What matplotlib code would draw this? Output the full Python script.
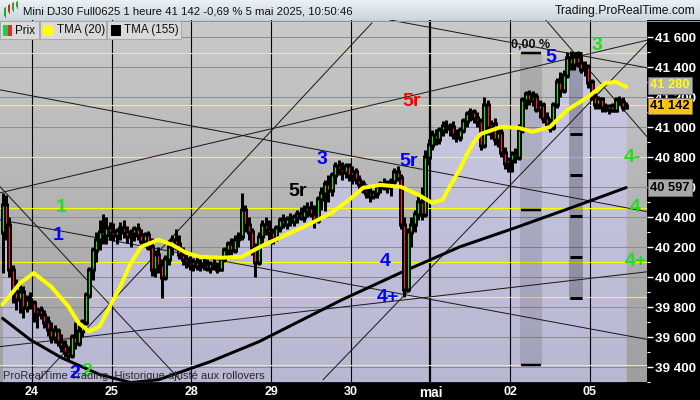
import numpy as np
import matplotlib
matplotlib.use("Agg")
import matplotlib.pyplot as plt
import matplotlib.transforms as mtransforms
from matplotlib.patches import Rectangle

plt.rcParams['font.family'] = ['Liberation Sans', 'DejaVu Sans']

# ------------------------------------------------------------------ data
first_open = 40300
highs = [40560, 40550, 40400, 40080, 39990, 39950, 39940, 39880, 39900,
         39850, 39800, 39810, 39780, 39740, 39700, 39680, 39660, 39620, 39580, 39540, 39620, 39700,
         39680, 39720, 39900, 40070, 40200, 40300, 40380, 40420, 40400, 40370,
         40360, 40330, 40370, 40380, 40340, 40320, 40340, 40360, 40320, 40300, 40310, 40260,
         40180, 40200, 40120, 40150, 40250, 40280, 40320, 40280, 40200, 40160, 40140,
         40130, 40140, 40120, 40130, 40120, 40110, 40130, 40100, 40140, 40200, 40240, 40260,
         40280, 40300, 40560, 40480, 40400, 40330, 40230, 40300, 40380, 40400, 40380,
         40330, 40350, 40400, 40420, 40410, 40430, 40420, 40450, 40470, 40480, 40500, 40510,
         40480, 40540, 40600, 40650, 40680, 40700, 40770, 40780, 40770, 40760, 40760,
         40740, 40730, 40680, 40650, 40620, 40600, 40580, 40620, 40640, 40660, 40650, 40660,
         40730, 40740, 40690, 40400, 40330, 40400, 40450, 40560, 40600, 40850, 40920,
         40980, 40990, 41000, 41040, 41050, 41030, 41040, 40990, 41000, 41060, 41110, 41130,
         41120, 41100, 41060, 41200, 41180, 41050, 41060, 41000, 40990, 40870, 40800,
         40840, 40860, 41020, 41200, 41240, 41250, 41240, 41230, 41180, 41170, 41100, 41060,
         41170, 41330, 41370, 41380, 41500, 41510, 41500, 41510, 41480, 41440, 41420,
         41320, 41230, 41210, 41200, 41160, 41150, 41160, 41200, 41210, 41200, 41170]
lows = [40030, 40250, 40000, 39830, 39780, 39760, 39730, 39770, 39790,
        39700, 39660, 39720, 39660, 39610, 39560, 39560, 39540, 39500, 39470, 39440, 39460, 39520,
        39540, 39600, 39680, 39860, 39980, 40100, 40180, 40220, 40220, 40250,
        40240, 40220, 40250, 40260, 40230, 40200, 40240, 40250, 40210, 40200, 40180, 40010,
        40000, 40030, 39860, 39980, 40080, 40150, 40180, 40120, 40080, 40060, 40050,
        40040, 40050, 40040, 40050, 40040, 40030, 40050, 40030, 40040, 40100, 40130, 40150,
        40160, 40200, 40250, 40300, 40250, 40150, 40000, 40080, 40220, 40280, 40250,
        40220, 40240, 40300, 40330, 40320, 40340, 40340, 40360, 40380, 40370, 40400, 40400,
        40330, 40360, 40450, 40440, 40500, 40540, 40620, 40680, 40650, 40660, 40640,
        40620, 40620, 40580, 40560, 40530, 40500, 40520, 40530, 40560, 40580, 40560, 40540,
        40610, 40640, 40320, 39870, 39900, 40200, 40300, 40380, 40380, 40400, 40750,
        40850, 40880, 40890, 40940, 40960, 40940, 40920, 40900, 40910, 40960, 41000, 41040,
        41030, 41000, 40850, 40860, 40950, 40920, 40880, 40870, 40800, 40720, 40700,
        40700, 40760, 40780, 40960, 41120, 41150, 41140, 41100, 41060, 41030, 40990, 40970,
        40980, 41130, 41200, 41230, 41330, 41380, 41380, 41400, 41360, 41340, 41260,
        41180, 41120, 41120, 41100, 41100, 41090, 41100, 41100, 41150, 41110, 41120]
closes = [40480, 40350, 40050, 39900, 39850, 39900, 39800, 39850, 39830,
          39760, 39780, 39750, 39700, 39650, 39600, 39640, 39570, 39540, 39500, 39480, 39600, 39560,
          39640, 39700, 39880, 40050, 40180, 40250, 40300, 40280, 40330, 40300,
          40280, 40310, 40330, 40300, 40270, 40290, 40320, 40280, 40240, 40280, 40200, 40050,
          40150, 40080, 40000, 40120, 40200, 40250, 40220, 40150, 40120, 40100, 40080,
          40100, 40070, 40090, 40080, 40060, 40090, 40070, 40050, 40120, 40180, 40220, 40180,
          40250, 40270, 40450, 40350, 40300, 40200, 40100, 40270, 40350, 40320, 40300,
          40260, 40330, 40380, 40350, 40390, 40370, 40400, 40420, 40400, 40440, 40460, 40420,
          40380, 40520, 40560, 40620, 40580, 40680, 40740, 40720, 40700, 40740, 40680,
          40700, 40650, 40620, 40580, 40560, 40540, 40560, 40600, 40620, 40600, 40630, 40640,
          40700, 40660, 40350, 39920, 40300, 40350, 40420, 40500, 40420, 40800, 40880,
          40950, 40920, 40980, 41010, 40990, 41000, 40950, 40930, 40980, 41040, 41090, 41100,
          41060, 41040, 40880, 41150, 41000, 41020, 40920, 40960, 40830, 40760, 40780,
          40820, 40800, 40980, 41180, 41220, 41180, 41200, 41120, 41150, 41060, 41020, 41000,
          41150, 41300, 41250, 41350, 41460, 41420, 41470, 41430, 41390, 41400, 41300,
          41200, 41150, 41190, 41130, 41120, 41140, 41110, 41180, 41170, 41130, 41142]

day_labels = ["24", "25", "28", "29", "30", "mai", "02", "05"]
day_start_bars = [9, 32, 55, 78, 101, 124, 147, 170]

tma20_bars = [0, 5, 9, 14, 19, 22, 25, 28, 31, 34, 37, 40, 45, 49, 53, 57, 63, 69, 75,
              80, 85, 90, 95, 100, 104, 109, 115, 120, 124, 127, 129, 132, 134, 136, 138,
              144, 149, 153, 158, 163, 169, 174, 177, 180]
tma20_vals = [39817, 39958, 40027, 39937, 39804, 39693, 39637, 39671, 39804, 39937, 40093,
              40202, 40249, 40215, 40162, 40135, 40129, 40135, 40210, 40262, 40315, 40370,
              40429, 40515, 40595, 40615, 40602, 40549, 40495, 40515, 40600, 40720, 40820,
              40900, 40955, 41002, 40995, 40969, 41002, 41115, 41202, 41295, 41302, 41269]

tma155_bars = [0, 8, 17, 28, 37, 45, 60, 74, 98, 115, 132, 148, 165, 180]
tma155_vals = [39725, 39582, 39462, 39350, 39296, 39315, 39436, 39569, 39849, 40030,
               40202, 40329, 40470, 40597]

level_prices = [41495, 41147, 40800, 40460, 40102, 39870, 39415]

trend_lines = [
    ((-0.7, 41249), (186.3, 40435)),
    ((-0.7, 40562), (186.3, 41582)),
    ((111.8, 41715), (186.3, 41395)),
    ((156.8, 41715), (186.3, 40928)),
    ((92.5, 39315), (186.3, 41569)),
    ((10.5, 39315), (106.6, 41695)),
    ((-0.7, 40602), (51.2, 39315)),
    ((-0.7, 40382), (186.3, 39583)),
    ((-0.7, 39536), (186.3, 40036)),
]

value_tags = [(41280, "41 280", "#b4b4b4", "#ffff00"),
              (41142, "41 142", "#ffc20e", "#000000"),
              (40597, "40 597", "#a8a8a8", "#000000")]

wave_labels = [("1", 61, 208, "#22dd22"), ("1", 58, 236, "#0000ff"),
               ("2", 75, 373, "#0000ff"), ("2", 87, 372, "#22dd22"),
               ("5r", 298, 191, "#000000"), ("3", 322, 159, "#0000ff"),
               ("5r", 409, 161, "#0000ff"), ("4", 385, 262, "#0000ff"),
               ("4+", 388, 297, "#0000ff"), ("5r", 412, 102, "#ff0000"),
               ("5", 551, 57, "#0000ff"), ("3", 597, 45, "#22dd22"),
               ("4-", 632, 158, "#22dd22"), ("4", 635, 208, "#22dd22"),
               ("4+", 636, 262, "#22dd22")]

band1 = (149.3, 155.7, 39415, 41495)
band1_marks = [41495, 40449, 39415]
band2 = (163.5, 167.5, 39849, 41495)
band2_marks = [41495, 40955, 40682, 40409, 40136, 39862]

# ------------------------------------------------------------------ figure
W, H = 700, 400
fig = plt.figure(figsize=(W / 100, H / 100), dpi=100, facecolor="black")
PT = 0.72  # points per pixel

ax_left, ax_right, ax_top, ax_bot = 0, 647, 20, 382
ax = fig.add_axes([ax_left / W, 1 - ax_bot / H, (ax_right - ax_left) / W, (ax_bot - ax_top) / H])
YMIN, YMAX = 39302, 41715
XMIN, XMAX = -0.735, 186.0
ax.set_xlim(XMIN, XMAX)
ax.set_ylim(YMIN, YMAX)
for s in ax.spines.values():
    s.set_visible(False)

# background gradient
top_c = np.array([202, 202, 202]) / 255
bot_c = np.array([158, 158, 158]) / 255
t = np.linspace(0, 1, 256)[:, None, None]
grad = top_c * (1 - t) + bot_c * t
ax.imshow(grad, extent=(XMIN, XMAX, YMIN, YMAX), aspect="auto", zorder=0, origin="upper")

n = len(closes)
xs = np.arange(n)
opens = [first_open] + closes[:-1]

# area under price
ax.fill_between(xs, closes, YMIN, color=(0.80, 0.80, 0.98), alpha=0.58, lw=0, zorder=1)

# grid
for p in range(39400, 41700, 200):
    ax.axhline(p, color="#8e8e8e", lw=1 * PT, zorder=1.5)

# day separators
for b, lab in zip(day_start_bars, day_labels):
    ax.axvline(b - 0.5, color="black", lw=(2.2 if lab == "mai" else 1.1) * PT, zorder=2)

# level lines
for p in level_prices:
    ax.axhline(p, color="#ffff00", lw=1.1 * PT, zorder=2.2)

# bands
for (x0, x1, y0, y1), a in [(band1, 0.12), (band2, 0.24)]:
    ax.add_patch(Rectangle((x0, y0), x1 - x0, y1 - y0, facecolor="black", alpha=a,
                           lw=0, zorder=2.4))
for p in band1_marks:
    ax.hlines(p, band1[0] + 0.4, band1[1] - 0.4, color="black", lw=2.5 * PT, zorder=2.5)
for p in band2_marks:
    ax.hlines(p, band2[0] + 0.3, band2[1] - 0.3, color="black", lw=3 * PT, zorder=2.5)

# trend lines
for (a, b) in trend_lines:
    ax.plot([a[0], b[0]], [a[1], b[1]], color="#1a1a1a", lw=1 * PT, zorder=3)

# TMA 155
ax.plot(tma155_bars, tma155_vals, color="black", lw=3 * PT, zorder=3.5,
        solid_capstyle="round", solid_joinstyle="round")

# candles
lo_b = np.minimum(opens, closes)
hi_b = np.maximum(opens, closes)
ax.vlines(xs, lows, highs, color="black", lw=3.0 * PT, zorder=4)
ax.vlines(xs, lo_b - 12, hi_b + 12, color="black", lw=5.0 * PT, zorder=4.1)
up = np.array(closes) >= np.array(opens)
inset = 8
for i in range(n):
    if hi_b[i] - lo_b[i] > 2 * inset:
        ax.vlines(xs[i], lo_b[i] + inset, hi_b[i] - inset,
                  color="#1fe01f" if up[i] else "#ff1a3c", lw=1.2 * PT, zorder=4.2)

# TMA 20
ax.plot(tma20_bars, tma20_vals, color="#ffff00", lw=4.0 * PT, zorder=5,
        solid_capstyle="round", solid_joinstyle="round")

# right axis
ax.yaxis.tick_right()
ax.set_yticks(range(39400, 41700, 200))
ax.set_yticklabels([f"{v:,}".replace(",", " ") for v in range(39400, 41700, 200)])
ax.set_yticks(range(39300, 41700, 100), minor=True)
ax.tick_params(axis="y", which="major", colors="white", length=4, width=1, pad=1.5,
               labelsize=9.6)
ax.tick_params(axis="y", which="minor", colors="white", length=2, width=0.8)
for lb in ax.get_yticklabels():
    lb.set_fontweight("bold")

# bottom axis
ax.set_xticks([b - 0.5 for b in day_start_bars])
ax.set_xticklabels(day_labels)
ax.tick_params(axis="x", colors="white", length=0, pad=3, labelsize=9)
for lb in ax.get_xticklabels():
    lb.set_fontweight("bold")
    if lb.get_text() == "mai":
        lb.set_fontsize(9.8)

# value tags
tr = mtransforms.blended_transform_factory(ax.transAxes, ax.transData)
for v, s, fc, tc in value_tags:
    ax.text(1.005, v, s, transform=tr, ha="left", va="center", fontsize=9.3, fontweight="bold",
            color=tc, zorder=10,
            bbox=dict(boxstyle="square,pad=0.18", facecolor=fc, edgecolor="#707070", lw=0.6))

# ------------------------------------------------------------------ overlay (pixel coords)
ov = fig.add_axes([0, 0, 1, 1], zorder=10)
ov.set_xlim(0, W)
ov.set_ylim(H, 0)
ov.axis("off")
ov.patch.set_alpha(0)

# header
hg_top = np.array([236, 241, 245]) / 255
hg_bot = np.array([204, 214, 222]) / 255
th = np.linspace(0, 1, 64)[:, None, None]
ov.imshow(hg_top * (1 - th) + hg_bot * th, extent=(0, W, 20, 0), aspect="auto", zorder=1)
ov.plot([0, W], [20.5, 20.5], color="#8a96a0", lw=1 * PT, zorder=2)

# header icon
for (x0, y0, y1, c) in [(4, 8, 16, "#22aa22"), (8, 5, 12, "#dd2222"), (12, 3, 10, "#22aa22"),
                        (16, 2, 7, "#22aa22")]:
    ov.plot([x0 + 1, x0 + 1], [y0 - 1, y1 + 1], color="#555555", lw=0.6, zorder=3)
    ov.add_patch(Rectangle((x0, y0), 2.2, y1 - y0, facecolor=c, edgecolor="none", zorder=4))

ov.text(23, 11, "Mini DJ30 Full0625 1 heure 41 142 -0,69 % 5 mai 2025, 10:50:46",
        fontsize=8.2, color="#111111", ha="left", va="center", zorder=5)
ov.text(695, 11, "Trading.ProRealTime.com", fontsize=8.7, color="#111111", ha="right",
        va="center", zorder=5)

# legend row
for (x0, x1) in [(0, 39), (40, 106), (107, 181)]:
    ov.add_patch(Rectangle((x0, 21), x1 - x0, 18, facecolor="#d9d9d9", edgecolor="#a8a8a8",
                           lw=0.7, zorder=3))
ov.add_patch(Rectangle((3, 25), 5, 11, facecolor="#22cc44", edgecolor="none", zorder=4))
ov.add_patch(Rectangle((8, 25), 4, 11, facecolor="#ee2233", edgecolor="none", zorder=4))
ov.add_patch(Rectangle((43, 25), 10, 11, facecolor="#ffff00", edgecolor="none", zorder=4))
ov.add_patch(Rectangle((111, 25), 10, 11, facecolor="#000000", edgecolor="none", zorder=4))
for x0, s in [(15, "Prix"), (57, "TMA (20)"), (124, "TMA (155)")]:
    ov.text(x0, 30.5, s, fontsize=8.4, color="#111111", ha="left", va="center", zorder=5)

# elliott wave labels
for s, x, y, c in wave_labels:
    ov.text(x, y, s, fontsize=14, color=c, ha="center", va="center", fontweight="bold",
            zorder=5)
ov.text(531, 45, "0,00 %", fontsize=9, color="#111111", ha="center", va="center",
        fontweight="bold", zorder=5)

ov.text(3, 376, "ProRealTime Trading  Historique ajusté aux rollovers", fontsize=8,
        color="#2a2a2a", ha="left", va="center", zorder=5)

fig.savefig("out.png", dpi=100, facecolor="black")
